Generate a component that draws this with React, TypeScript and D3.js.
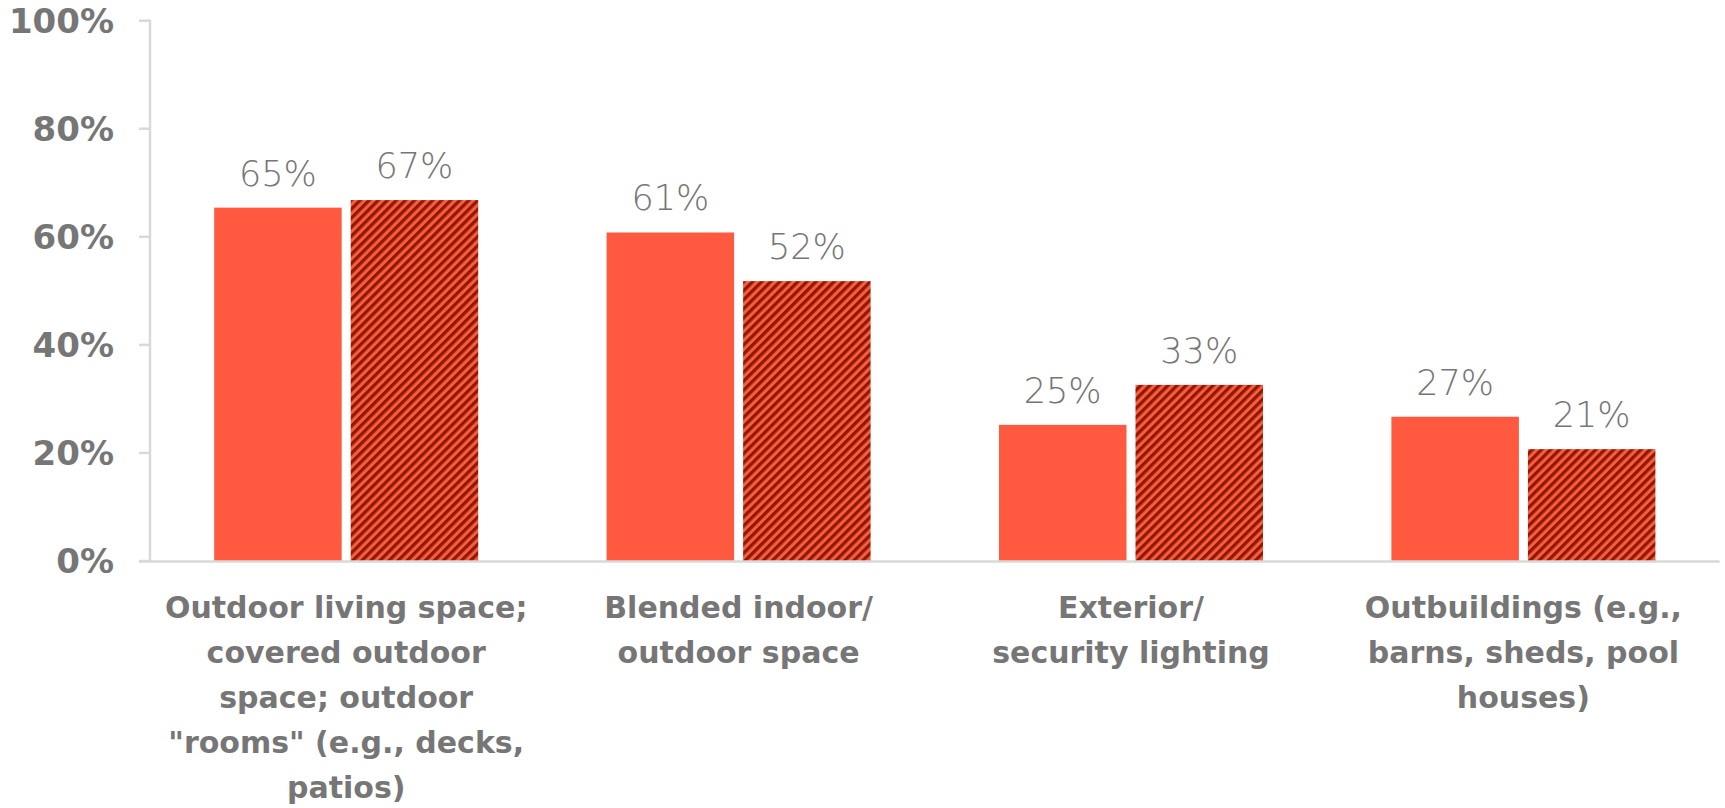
import React from "react";
import * as d3 from "d3";

const categories: string[][] = [
  ["Outdoor living space;", "covered outdoor", "space; outdoor", "\"rooms\" (e.g., decks,", "patios)"],
  ["Blended indoor/", "outdoor space"],
  ["Exterior/", "security lighting"],
  ["Outbuildings (e.g.,", "barns, sheds, pool", "houses)"],
];
const seriesKeys = ["solid", "hatched"];
const solidValues = [65.4, 60.8, 25.2, 26.7];
const hatchedValues = [66.8, 51.8, 32.6, 20.7];
const yTicks = [0, 20, 40, 60, 80, 100];

const W = 1725;
const H = 808;
const AXIS_X = 150;
const PLOT_RIGHT = 1719.6;
const Y0 = 561;
const Y100 = 20.7;

const ORANGE = "#FF5A3F";
const DARK = "#8A1C06";
const GRID = "#D9D9D9";
const TEXT = "#767676";

export default function App() {
  const idx = categories.map((_, i) => String(i));
  const x = d3
    .scaleBand<string>()
    .domain(idx)
    .range([AXIS_X, PLOT_RIGHT])
    .paddingInner(0.3272)
    .paddingOuter(0.1636);
  const xs = d3
    .scaleBand<string>()
    .domain(seriesKeys)
    .range([0, x.bandwidth()])
    .paddingInner(0.066)
    .paddingOuter(0);
  const y = d3.scaleLinear().domain([0, 100]).range([Y0, Y100]);

  const data = categories.map((c, i) => ({
    key: String(i),
    lines: c,
    vals: [
      { s: "solid", v: solidValues[i] },
      { s: "hatched", v: hatchedValues[i] },
    ],
  }));

  return (
    <svg
      width={W}
      height={H}
      style={{ position: "absolute", left: 0, top: 0 }}
      xmlns="http://www.w3.org/2000/svg"
    >
      <defs>
        <pattern
          id="hatch"
          patternUnits="userSpaceOnUse"
          width={6.4}
          height={6.4}
          patternTransform="rotate(45)"
        >
          <rect x={0} y={0} width={6.4} height={6.4} fill={ORANGE} />
          <rect x={0} y={0} width={3.3} height={6.4} fill={DARK} />
        </pattern>
      </defs>

      {/* axes */}
      <line x1={AXIS_X} x2={AXIS_X} y1={Y100 - 1} y2={Y0} stroke={GRID} strokeWidth={2.5} />
      {yTicks.map((t) => (
        <g key={t}>
          <line x1={AXIS_X - 11} x2={AXIS_X} y1={y(t)} y2={y(t)} stroke={GRID} strokeWidth={2.5} />
          <text
            x={114}
            y={y(t)}
            dy="0.36em"
            textAnchor="end"
            fontFamily="DejaVu Sans"
            fontWeight="bold"
            fontSize={34}
            fill={TEXT}
          >
            {t}%
          </text>
        </g>
      ))}

      {/* bars */}
      {data.map((d) => (
        <g key={d.key} transform={`translate(${x(d.key)},0)`}>
          {d.vals.map((b) => (
            <g key={b.s}>
              <rect
                x={xs(b.s)}
                y={y(b.v)}
                width={xs.bandwidth()}
                height={y(0) - y(b.v)}
                fill={b.s === "solid" ? ORANGE : "url(#hatch)"}
              />
              <text
                x={(xs(b.s) as number) + xs.bandwidth() / 2}
                y={y(b.v) - 22}
                textAnchor="middle"
                fontFamily="DejaVu Sans"
                fontWeight={200}
                fontSize={35}
                fill={TEXT}
              >
                {Math.round(b.v)}%
              </text>
            </g>
          ))}
        </g>
      ))}

      {/* baseline */}
      <line x1={AXIS_X - 11} x2={PLOT_RIGHT} y1={Y0 + 0.5} y2={Y0 + 0.5} stroke={GRID} strokeWidth={2.5} />

      {/* category labels */}
      {data.map((d) => (
        <text
          key={d.key}
          textAnchor="middle"
          fontFamily="DejaVu Sans"
          fontWeight="bold"
          fontSize={30}
          fill={TEXT}
        >
          {d.lines.map((ln, j) => (
            <tspan key={j} x={(x(d.key) as number) + x.bandwidth() / 2} y={618 + j * 45}>
              {ln}
            </tspan>
          ))}
        </text>
      ))}
    </svg>
  );
}
